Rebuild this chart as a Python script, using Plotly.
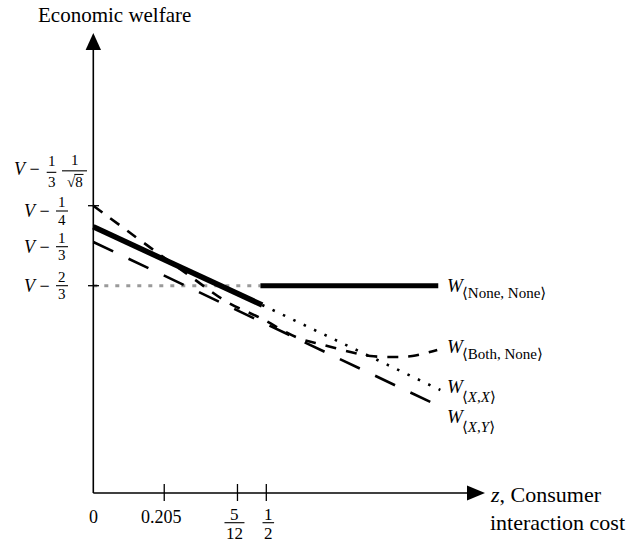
import plotly.graph_objects as go

FONT = "Liberation Serif, Times New Roman, DejaVu Serif, serif"

# ---------------- data (z = consumer interaction cost, w = welfare relative to V) -------------
z_eq = [0.0, 0.488]              # thick solid segment (z < 1/2)
w_eq = [-0.36, -0.767]

z_none = [0.483, 0.997]          # W<None,None>
w_none = [-2 / 3, -2 / 3]

z_xx = [0.488, 1.003]            # W<X,X> (dotted continuation)
w_xx = [-0.767, -1.21]

z_xy = [0.0, 1.017]              # W<X,Y>
w_xy = [-0.439, -1.309]

z_both = [0.0, 0.150, 0.275, 0.387, 0.483, 0.592, 0.665, 0.743, 0.801, 0.864, 0.922, 0.994]
w_both = [-0.25, -0.449, -0.611, -0.752, -0.835, -0.939, -0.975, -1.012, -1.033, -1.038, -1.033, -1.001]

z_ref = [0.0, 0.483]             # grey guide at V - 2/3
w_ref = [-2 / 3, -2 / 3]

x_tick_vals = [0.0, 0.205, 5 / 12, 0.5]
x_tick_labels = ["0", "0.205", "5/12", "1/2"]

y_tick_marks = [-1 / 4, -2 / 3]
y_label_vals = [-1 / (3 * 8 ** 0.5), -1 / 4, -1 / 3, -2 / 3]
y_label_fracs = [[("1", "3"), ("1", "√8")], [("1", "4")], [("1", "3")], [("2", "3")]]

series_subs = ["⟨None, None⟩", "⟨Both, None⟩", "⟨<i>X</i>,<i>X</i>⟩", "⟨<i>X</i>,<i>Y</i>⟩"]
series_end_w = [w_none[-1], w_both[-1], w_xx[-1], w_xy[-1]]

# ---------------- layout helpers (screen pixel <-> data) ----------------
W, H = 634, 543
PAGE_MARGIN = 0            # body margin removed by post_script below
Z0_PX, ZS = 93.3, 346.0
Y0_PX, YS = 205.7, 192.0   # screen row of V-1/4, pixels per unit of welfare


def xd(px):
    return (px - Z0_PX) / ZS


def yd(py):
    return -0.25 - (py - Y0_PX) / YS


def xpx(z):
    return Z0_PX + z * ZS


def ypx(v):
    return Y0_PX - (v + 0.25) * YS


fig = go.Figure()
fig.add_trace(go.Scatter(x=z_ref, y=w_ref, mode="lines",
                         line=dict(color="#9a9a9a", width=3, dash="4px,7px")))
fig.add_trace(go.Scatter(x=z_xy, y=w_xy, mode="lines",
                         line=dict(color="black", width=2.6, dash="22px,17px")))
fig.add_trace(go.Scatter(x=z_both, y=w_both, mode="lines", line_shape="spline",
                         line=dict(color="black", width=2.6, dash="11px,10px")))
fig.add_trace(go.Scatter(x=z_xx, y=w_xx, mode="lines",
                         line=dict(color="black", width=2.6, dash="2.5px,9px")))
fig.add_trace(go.Scatter(x=z_none, y=w_none, mode="lines",
                         line=dict(color="black", width=5)))
fig.add_trace(go.Scatter(x=z_eq, y=w_eq, mode="lines",
                         line=dict(color="black", width=5.5)))

shapes = []
ann = []


def line(x0, y0, x1, y1, w=1.6):
    shapes.append(dict(type="line", xref="x", yref="y", x0=x0, y0=y0, x1=x1, y1=y1,
                       line=dict(color="black", width=w)))


def text(px, py, s, size, xanchor="center", yanchor="middle"):
    ann.append(dict(xref="x", yref="y", x=xd(px), y=yd(py), text=s, showarrow=False,
                    xanchor=xanchor, yanchor=yanchor, borderpad=0, borderwidth=0,
                    font=dict(family=FONT, size=size, color="black")))


def frac(cx, bar, num, den, hw, size, dn, dd):
    line(xd(cx - hw), yd(bar), xd(cx + hw), yd(bar), 1.1)
    text(cx, bar - dn, num, size)
    text(cx, bar + dd, den, size)


# axes
AX_Y = 493
line(0, yd(AX_Y), 0, yd(49))
line(0, yd(AX_Y), xd(468), yd(AX_Y))
tri_y = f"M {xd(93.3)},{yd(33)} L {xd(85.6)},{yd(50)} L {xd(101)},{yd(50)} Z"
tri_x = f"M {xd(485)},{yd(AX_Y)} L {xd(467)},{yd(AX_Y - 7.5)} L {xd(467)},{yd(AX_Y + 7.5)} Z"
for p in (tri_y, tri_x):
    shapes.append(dict(type="path", xref="x", yref="y", path=p, fillcolor="black",
                       line=dict(width=0)))

# x ticks and labels
x_label_nudge = [0, -3, -3, 2]
for v, lab, nd in zip(x_tick_vals, x_tick_labels, x_label_nudge):
    if v > 0:
        line(v, yd(484), v, yd(501), 1.3)
    cx = xpx(v) + nd
    if "/" in lab:
        n, d = lab.split("/")
        frac(cx, 522.7, n, d, 10 if len(d) > 1 else 5.8, 17, 8.3, 11)
    else:
        text(cx, 517, lab, 18)

# y ticks and labels
for v in y_tick_marks:
    line(xd(88), v, xd(99), v, 1.3)

y_label_nudge = [-8, 5.3, 25, 0]
for i, (v, fr, nd) in enumerate(zip(y_label_vals, y_label_fracs, y_label_nudge)):
    bar = ypx(v) + nd
    if i == 0:
        text(39.5, bar - 3, "<i>V</i> −", 18, xanchor="right")
        frac(51.5, bar, fr[0][0], fr[0][1], 4.8, 15, 11, 10)
        frac(74.5, bar - 1.5, fr[1][0], fr[1][1], 12.5, 15, 10.5, 11.5)
        line(xd(74.3), yd(bar - 1.5 + 3.6), xd(83.5), yd(bar - 1.5 + 3.6), 1)
    else:
        text(49.5, bar, "<i>V</i> −", 18, xanchor="right")
        frac(62, bar, fr[0][0], fr[0][1], 6, 15, 9, 8.5)

# series labels
w_nudge = [-0.7, -3.2, -3.3, 7.7]
sub_drop = [7.5, 7.5, 10, 10]
for s, wv, nd, sd in zip(series_subs, series_end_w, w_nudge, sub_drop):
    cy = ypx(wv) + nd
    text(446.5, cy, "<i>W</i>", 19, xanchor="left")
    text(461.5, cy + sd, s, 15, xanchor="left")

# axis titles
text(114, 15, "Economic welfare", 21)
text(490, 494, "<i>z</i>, Consumer", 22, xanchor="left")
text(490, 522, "interaction cost", 22, xanchor="left")

fig.update_layout(
    width=W, height=H, margin=dict(l=0, r=0, t=0, b=0),
    paper_bgcolor="white", plot_bgcolor="white", showlegend=False,
    shapes=shapes, annotations=ann,
    xaxis=dict(range=[xd(PAGE_MARGIN), xd(W + PAGE_MARGIN)], showgrid=False, zeroline=False,
               showticklabels=False, ticks="", showline=False, fixedrange=True),
    yaxis=dict(range=[yd(H + PAGE_MARGIN), yd(PAGE_MARGIN)], showgrid=False, zeroline=False,
               showticklabels=False, ticks="", showline=False, fixedrange=True),
)
fig.write_html("out.html",
               config={"displayModeBar": False},
               post_script="document.body.style.margin='0';document.body.style.overflow='hidden';")
